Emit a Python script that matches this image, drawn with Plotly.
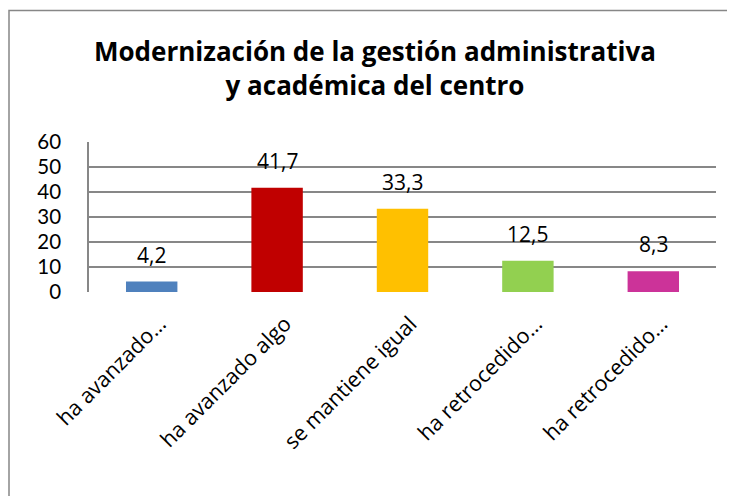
import plotly.graph_objects as go

categorias = ["ha avanzado…", "ha avanzado algo", "se mantiene igual",
              "ha retrocedido…", "ha retrocedido…​"]
valores = [4.2, 41.7, 33.3, 12.5, 8.3]
colores = ["#4F81BD", "#C00000", "#FFC000", "#92D050", "#CC3399"]
ticks_y = [0, 10, 20, 30, 40, 50, 60]

# the page adds an 8px body margin, so the figure is 8px smaller than the window
W, H = 727, 488
L, R, T, B = 81, 19, 134, 204
pw, ph = W - L - R, H - T - B

fig = go.Figure()
fig.add_trace(go.Bar(x=categorias, y=valores, marker=dict(color=colores, line=dict(width=0)),
                     width=0.41))

for c, v in zip(categorias, valores):
    fig.add_annotation(x=c, y=v, text=f"{v:.1f}".replace(".", ","),
                       showarrow=False, yanchor="bottom", yshift=11,
                       font=dict(family="Open Sans", size=21, color="#000000"))

fig.update_layout(
    width=W, height=H,
    margin=dict(l=L, r=R, t=T, b=B),
    paper_bgcolor="white", plot_bgcolor="white",
    showlegend=False,
    title=dict(text="<b>Modernización de la gestión administrativa<br>y académica del centro</b>",
               x=367 / W, xref="container", xanchor="center",
               y=1 - 53 / H, yref="container", yanchor="top",
               font=dict(family="Open Sans", size=26, color="#000000")),
    xaxis=dict(tickangle=-45, tickfont=dict(family="Open Sans", size=21.5, color="#000000"),
               showline=False, showgrid=False, ticks="",
               ticklabelstandoff=14, ticklabelshift=8),
    yaxis=dict(range=[0, 60], tickvals=ticks_y, showgrid=True, gridcolor="#878787", gridwidth=1.6,
               showline=True, linecolor="#878787", linewidth=1.6, zeroline=False,
               ticks="", ticklabelstandoff=22,
               tickfont=dict(family="Lato", size=20.5, color="#000000")),
    shapes=[dict(type="rect", xref="paper", yref="paper",
                 x0=(1 - L) / pw, x1=1.2,
                 y0=-2, y1=(H - B - 2.5) / ph,
                 line=dict(color="#878787", width=1.5), layer="below")],
)

fig.write_html("out.html")
